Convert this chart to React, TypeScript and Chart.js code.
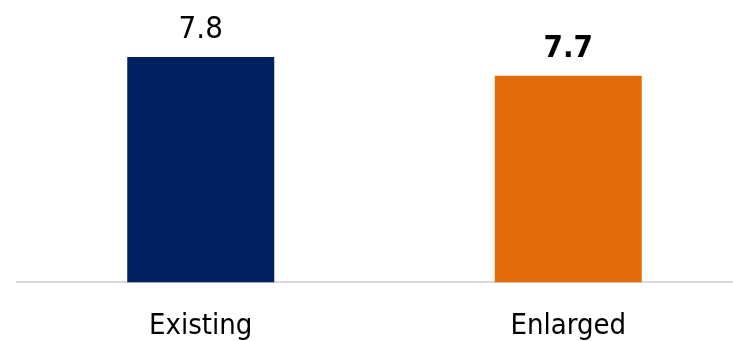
import React, { useEffect, useRef } from "react";
import { Chart, registerables } from "chart.js";

Chart.register(...registerables);

const categories = ["Existing", "Enlarged"];
const values = [7.8, 7.7];
const valueLabels = ["7.8", "7.7"];
const labelBold = [false, true];
const barColors = ["#002060", "#E36C0A"];

const FONT = "'DejaVu Sans Condensed', 'DejaVu Sans', sans-serif";

const valueLabelPlugin = {
  id: "valueLabels",
  afterDatasetsDraw(chart: any) {
    const ctx = chart.ctx;
    const meta = chart.getDatasetMeta(0);
    ctx.save();
    ctx.fillStyle = "#000000";
    ctx.textAlign = "center";
    ctx.textBaseline = "alphabetic";
    meta.data.forEach((bar: any, i: number) => {
      ctx.font = `${labelBold[i] ? "bold " : ""}31px ${FONT}`;
      ctx.fillText(valueLabels[i], bar.x, bar.y - 19);
    });
    ctx.restore();
  },
};

export default function App() {
  const canvasRef = useRef<HTMLCanvasElement | null>(null);

  useEffect(() => {
    document.body.style.margin = "0";
    document.body.style.overflow = "hidden";
    const canvas = canvasRef.current;
    if (!canvas) return;
    const chart = new Chart(canvas, {
      type: "bar",
      data: {
        labels: categories,
        datasets: [
          {
            data: values,
            backgroundColor: barColors,
            barPercentage: 0.4,
            categoryPercentage: 1,
          },
        ],
      },
      options: {
        animation: false,
        responsive: false,
        maintainAspectRatio: false,
        layout: { padding: { top: 19.5, left: 17, right: 0, bottom: 0 } },
        plugins: {
          legend: { display: false },
          tooltip: { enabled: false },
        },
        scales: {
          x: {
            grid: { display: false, drawTicks: false },
            border: { display: true, color: "#D9D9D9", width: 2 },
            ticks: {
              color: "#000000",
              font: { family: FONT, size: 29 },
              padding: 27,
              maxRotation: 0,
            },
          },
          y: {
            display: false,
            min: 6.6,
            max: 8.0,
          },
        },
      },
      plugins: [valueLabelPlugin],
    });
    return () => chart.destroy();
  }, []);

  return (
    <div style={{ position: "absolute", left: 0, top: 0, width: 733, height: 341, overflow: "hidden" }}>
      <canvas ref={canvasRef} width={752} height={371} style={{ width: 752, height: 371 }} />
    </div>
  );
}
